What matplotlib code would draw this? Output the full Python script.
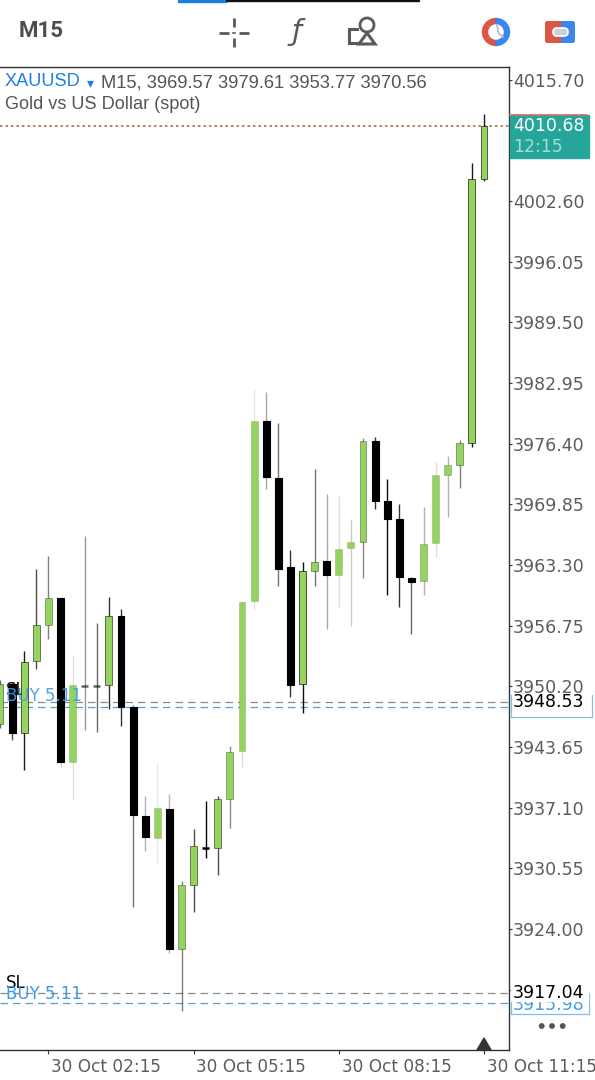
import matplotlib
matplotlib.use("Agg")
import matplotlib.pyplot as plt
from matplotlib.patches import Rectangle, Polygon, Circle, Wedge, FancyBboxPatch

# ---------- data ----------
opens = [3946.16, 3950.42, 3945.19, 3952.90, 3956.85, 3959.70, 3942.00, 3950.27, 3950.27, 3950.34,
         3957.82, 3948.00, 3936.20, 3933.86, 3936.99, 3921.88, 3928.72, 3932.78, 3932.72, 3938.00,
         3943.19, 3959.38, 3978.81, 3972.72, 3963.08, 3950.42, 3962.62, 3963.69, 3962.18, 3965.10,
         3965.81, 3976.68, 3970.17, 3968.23, 3961.92, 3961.54, 3965.64, 3973.04, 3974.06, 3976.50, 4004.93]
closes = [3950.42, 3945.19, 3952.79, 3956.85, 3959.70, 3942.00, 3950.31, 3950.27, 3950.27, 3957.76,
          3948.00, 3936.28, 3933.90, 3937.03, 3921.88, 3928.72, 3932.93, 3932.78, 3938.00, 3943.08,
          3959.27, 3978.81, 3972.76, 3962.90, 3950.37, 3962.62, 3963.65, 3962.18, 3964.99, 3965.75,
          3976.68, 3970.24, 3968.23, 3961.97, 3961.49, 3965.56, 3972.98, 3974.06, 3976.43, 4004.93, 4010.68]
highs = [3950.88, 3950.59, 3953.98, 3962.83, 3964.27, 3959.81, 3953.50, 3966.43, 3957.07, 3959.81,
         3958.51, 3948.18, 3938.36, 3941.89, 3938.61, 3929.19, 3934.77, 3937.82, 3938.36, 3943.79,
         3959.38, 3982.26, 3981.97, 3978.59, 3964.91, 3963.62, 3973.63, 3970.96, 3970.74, 3968.26,
         3976.97, 3977.14, 3972.55, 3969.88, 3962.03, 3969.59, 3974.41, 3975.06, 3976.79, 4006.65, 4011.98]
lows = [3945.70, 3944.41, 3941.17, 3952.10, 3955.34, 3941.52, 3938.00, 3945.49, 3945.27, 3947.72,
        3945.95, 3926.41, 3932.46, 3931.16, 3921.38, 3915.19, 3925.87, 3931.70, 3929.83, 3934.94,
        3941.52, 3958.44, 3971.53, 3961.06, 3949.08, 3947.29, 3961.06, 3956.42, 3958.73, 3956.71,
        3961.92, 3969.37, 3960.02, 3958.79, 3955.85, 3960.06, 3964.19, 3968.51, 3971.64, 3976.06, 4004.74]
wick_strength = [.6, .7, .9, .7, .5, .2, .12, .4, .6, .8, .8, .55, .3, .1, .3, .5, .7, 1, .7, .45, .15,
                 .1, .35, .55, .8, .95, .55, .35, .12, .2, .45, .8, .95, .8, .6, .3, .12, .3, .5, .9, .9]
price_ticks = [4015.70, 4009.15, 4002.60, 3996.05, 3989.50, 3982.95, 3976.40, 3969.85, 3963.30,
               3956.75, 3950.20, 3943.65, 3937.10, 3930.55, 3924.00, 3917.45]
hidden_ticks = [4009.15, 3917.45]
time_idx = [4, 16, 28, 40]
time_labels = ["30 Oct 02:15", "30 Oct 05:15", "30 Oct 08:15", "30 Oct 11:15"]
last_price = 4010.68
sl_levels = [3948.53, 3917.04]
buy_levels = [3948.00, 3915.98]

GREEN = "#95d35f"
DARK = "#333333"
GRAY = "#5c5c5c"
BLUE = "#3f9ae8"
W, H = 595, 1080
AXFS = 12.5

fig = plt.figure(figsize=(W / 100, H / 100), dpi=100, facecolor="white")
ax = fig.add_axes([0, (H - 1050) / H, 508.5 / W, (1050 - 66.5) / H])
ax.set_xlim(0, 508.5 / 12.1)
ax.set_ylim(3910.94, 4017.12)
ax.spines["left"].set_visible(False)
for s in ("top", "right", "bottom"):
    ax.spines[s].set_color(DARK)
    ax.spines[s].set_linewidth(1.0)

ax.yaxis.tick_right()
ax.set_yticks(price_ticks)
ax.set_yticklabels(["" if p in hidden_ticks else f"{p:.2f}" for p in price_ticks],
                   fontsize=AXFS, color=GRAY, family="DejaVu Sans")
ax.tick_params(axis="y", length=2.5, width=0.8, color=DARK, pad=0.6)
ax.set_xticks(time_idx)
ax.set_xticklabels([])
ax.tick_params(axis="x", length=3, width=0.8, color=DARK)
for i, t in zip(time_idx, time_labels):
    ax.annotate(t, xy=(i, 0), xycoords=("data", "axes fraction"), xytext=(2, -5.5),
                textcoords="offset points", ha="left", va="top", fontsize=12.2,
                color=GRAY, family="DejaVu Sans", annotation_clip=False)

# order lines
ax.axhline(last_price, color="#b5533c", lw=1.1, ls=(0, (1.6, 2.0)), zorder=1)
for p in sl_levels:
    ax.axhline(p, color="#8a8a8a", lw=0.9, ls=(0, (6, 4)), zorder=1)
for p in buy_levels:
    ax.axhline(p, color="#5c9fc4", lw=0.9, ls=(0, (6, 4)), zorder=1)

ax.text(0.5, sl_levels[0] + 1.3, "SL", fontsize=12, color="black", va="center", zorder=1)
ax.text(0.5, sl_levels[1] + 1.08, "SL", fontsize=12, color="black", va="center", zorder=2)

# candles
bw = 0.57
for i, (o, c, h, l, a) in enumerate(zip(opens, closes, highs, lows, wick_strength)):
    ax.plot([i, i], [l, h], color="black", alpha=a, lw=1.0, zorder=3, solid_capstyle="butt")
    lo, hi = min(o, c), max(o, c)
    up = c >= o
    if hi - lo < 0.3:
        ax.plot([i - bw / 2, i + bw / 2], [hi, hi], color="black", alpha=max(a, .6), lw=1.8,
                zorder=4, solid_capstyle="butt")
        continue
    if up:
        ax.add_patch(Rectangle((i - bw / 2, lo), bw, hi - lo, facecolor=GREEN,
                               edgecolor=(0.1, 0.15, 0.05, max(a * .8, .15)), lw=0.7, zorder=4))
    else:
        ax.add_patch(Rectangle((i - bw / 2, lo), bw, hi - lo, facecolor="black",
                               edgecolor="black", lw=0.8, zorder=4))

ax.text(0.5, sl_levels[0] + 0.65, "BUY 5.11", fontsize=12, color=BLUE, va="center", zorder=5, alpha=.9)
ax.text(0.5, sl_levels[1] - 0.02, "BUY 5.11", fontsize=12, color=BLUE, va="center", zorder=5)

# pixel overlay
ov = fig.add_axes([0, 0, 1, 1], facecolor="none")
ov.set_xlim(0, W)
ov.set_ylim(H, 0)
ov.axis("off")

# top bars
ov.add_patch(Rectangle((178, 0), 48, 1.5, color="#1a7fe0"))
ov.add_patch(Rectangle((226, 0), 193, 1.2, color="#111111"))

ov.text(19, 31, "M15", fontsize=16, color="#4d4d4d", family="Roboto", weight="bold",
        va="center", ha="left")

ic = "#5a5a5a"
for x0, y0, x1, y1 in [(219, 32.5, 229, 32.5), (239, 32.5, 249, 32.5), (234, 18, 234, 27),
                       (234, 38, 234, 47)]:
    ov.plot([x0, x1], [y0, y1], color=ic, lw=2, solid_capstyle="butt")
ov.plot([233, 235], [32.5, 32.5], color=ic, lw=1.2)
ov.text(297, 32, "ƒ", fontsize=21, family="DejaVu Sans", style="italic", color=ic,
        ha="center", va="center")
ov.plot([357, 349, 349, 358], [29, 29, 42.5, 42.5], color=ic, lw=2.2, solid_joinstyle="miter")
ov.add_patch(Polygon([(367, 33), (375, 44), (359, 44)], closed=True, fill=False, ec=ic, lw=2.2))
ov.add_patch(Circle((367, 25), 7, fill=False, ec=ic, lw=2))

ov.add_patch(Wedge((496, 32), 13.5, 90, 270, width=5, color="#dd5544"))
ov.add_patch(Wedge((496, 32), 13.5, 270, 90, width=5, color="#3b86ee"))
ov.plot([497, 498.5, 503], [25, 33, 37], color="#b4bec4", lw=1.3)
ov.add_patch(FancyBboxPatch((545, 21), 30, 22, boxstyle="round,pad=0,rounding_size=3", fc="#dd5544", ec="none"))
clip = FancyBboxPatch((545, 21), 30, 22, boxstyle="round,pad=0,rounding_size=3", fc="#3b86ee", ec="none")
ov.add_patch(clip)
left = Rectangle((545, 21), 15, 22, color="#dd5544")
ov.add_patch(left)
left.set_clip_path(clip)
ov.add_patch(FancyBboxPatch((553, 28), 15, 8, boxstyle="round,pad=0,rounding_size=4", fc="#c9cfd3", ec="white", lw=1.2))

# legend texts
ov.text(5, 82, "XAUUSD", fontsize=13.1, color="#1a80e6", family="Liberation Sans", va="center")
ov.text(90, 83, "▾", fontsize=10, color="#1a80e6", family="DejaVu Sans", va="center", ha="center")
ov.text(101, 82.5, "M15, 3969.57 3979.61 3953.77 3970.56", fontsize=13.2, color="#555555",
        family="Liberation Sans", va="center")
ov.text(5, 104.5, "Gold vs US Dollar (spot)", fontsize=13.1, color="#555555",
        family="Liberation Sans", va="center")

# price tag
ov.add_patch(Rectangle((510, 115), 79, 43, color="#26a69a", zorder=5))
ov.plot([510, 587], [115.2, 115.2], color="#d0705f", lw=1.2, zorder=6)
ov.text(513, 126, f"{last_price:.2f}", fontsize=AXFS, color="white", family="DejaVu Sans",
        va="center", zorder=7)
ov.text(513, 147, "12:15", fontsize=AXFS, color="#a5dcd5", family="DejaVu Sans", va="center", zorder=7)

# order tag at the upper level (its blue figure stays hidden behind the black one)
ov.add_patch(Rectangle((511, 695), 80, 21, color="white", zorder=5))
ov.plot([510.5, 510.5, 591.5, 591.5], [695, 717, 717, 695], color="#7fc0e8", lw=0.9, zorder=5)
ov.text(513, 702, f"{sl_levels[0]:.2f}", fontsize=AXFS, color="black", family="DejaVu Sans",
        va="center", zorder=7)

# order tag at the lower level
ov.plot([510.5, 510.5, 588.5, 588.5], [993, 1014, 1014, 993], color="#7fc0e8", lw=0.9, zorder=5)
ov.text(513, 1005, f"{buy_levels[1]:.2f}", fontsize=AXFS, color=BLUE, family="DejaVu Sans",
        va="center", zorder=5)
ov.add_patch(Rectangle((511, 985), 77, 15.5, color="white", zorder=6))
ov.text(513, 993, f"{sl_levels[1]:.2f}", fontsize=AXFS, color="black", family="DejaVu Sans",
        va="center", zorder=7)

# dots and marker
for x in (541.7, 552, 562.7):
    ov.add_patch(Circle((x, 1026), 2.2, color="#555555"))
ov.add_patch(Polygon([(477, 1050), (491, 1050), (484, 1038)], closed=True, color="#333333", zorder=6))

fig.savefig("out.png", dpi=100, facecolor="white")
